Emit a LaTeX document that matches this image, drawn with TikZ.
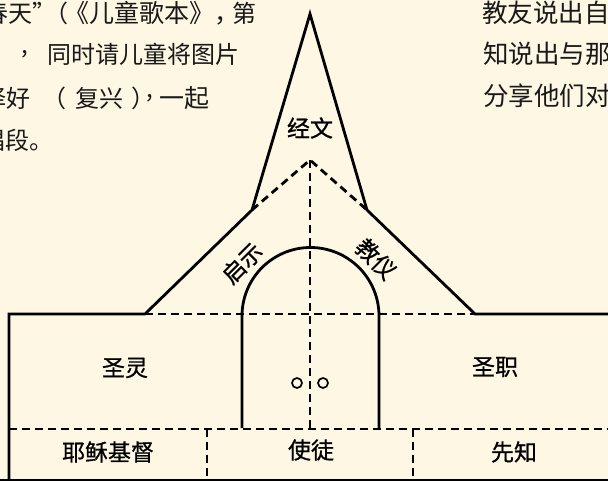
\documentclass[tikz,border=0pt]{standalone}
\usepackage{fontspec}
\newfontfamily\cjk{Noto Sans CJK SC}
\newfontfamily\cjkm[FakeBold=0.8]{Noto Sans CJK SC}
\definecolor{bg}{RGB}{254,247,228}
\definecolor{ink}{RGB}{25,25,25}
\tikzset{
  outline/.style={line width=2.8pt, line join=miter, line cap=butt, draw=black},
  dashline/.style={line width=2.8pt, dash pattern=on 8pt off 5pt, draw=black},
  lbl/.style={font=\cjkm\fontsize{23}{28}\selectfont, inner sep=0pt, text=black},
  toptext/.style={font=\cjk\fontsize{24}{29}\selectfont, anchor=west, inner sep=0pt, text=ink},
  righttext/.style={font=\cjk\fontsize{25.5}{30}\selectfont, anchor=west, inner sep=0pt, text=ink},
  hole/.style={line width=1.7pt, draw=black}
}
\begin{document}
\begin{tikzpicture}[x=1pt,y=-1pt]
\useasboundingbox (0,0) rectangle (608,481);
\fill[bg] (0,0) rectangle (608,481);
\clip (0,0) rectangle (608,481);

% top-left text fragments
\node[toptext] (l1a) at (-16,13) {春天”};
\node[toptext] (l1b) at (44,13) {（};
\node[toptext,font=\cjk\fontsize{25}{29}\selectfont] (l1c) at (64,13) {《儿童歌本》，};
\node[toptext] (l1d) at (232,13) {第};
\node[toptext] (l2a) at (21,54) {,};
\node[toptext] (l2b) at (47,54) {同时请儿童将图片};
\node[toptext] (l3a) at (-18,98) {择好};
\node[toptext] (l3b) at (42,98) {（};
\node[toptext] (l3c) at (75,98) {复兴};
\node[toptext] (l3d) at (131,98) {）};
\node[toptext] (l3e) at (146,98) {,};
\node[toptext,font=\cjk\fontsize{25}{29}\selectfont] (l3f) at (159,98) {一起};
\node[toptext] (l4) at (-19,140) {唱段。};

% top-right text fragments
\node[righttext] (r1) at (482,13) {教友说出自};
\node[righttext] (r2) at (483,54) {知说出与那};
\node[righttext] (r3) at (483,96) {分享他们对};

% outline of the church
\draw[outline] (9,490) -- (9,314) -- (145,314) -- (252,210) -- (310,14) -- (367,210) -- (475,314) -- (620,314);
\draw[outline] (0,480) -- (620,480);

% arch (door)
\draw[outline] (242,428) -- (242,316) arc[start angle=180, end angle=0, radius=68.5pt] -- (379,428);

% dashed division lines
\draw[dashline] (145,314) -- (475,314);
\draw[dashline] (252,210) -- (310,160) -- (367,210);
\draw[dashline] (310,160) -- (310,429);
\draw[dashline] (9,429) -- (620,429);
\draw[dashline] (207,429) -- (207,480);
\draw[dashline] (413,429) -- (413,480);

% door knobs
\draw[hole] (297,383) circle[radius=5pt];
\draw[hole] (323,383) circle[radius=5pt];

% labels
\node[lbl] (jingwen) at (310,128) {经文};
\node[lbl,rotate=45] (qishi) at (242,263) {启示};
\node[lbl,rotate=-45] (jiaoyi) at (376,259) {教仪};
\node[lbl] (shengling) at (125,368) {圣灵};
\node[lbl] (shengzhi) at (495,367) {圣职};
\node[lbl] (yesu) at (108,452) {耶稣基督};
\node[lbl] (shitu) at (311,450) {使徒};
\node[lbl] (xianzhi) at (514,452) {先知};
\end{tikzpicture}
\end{document}
